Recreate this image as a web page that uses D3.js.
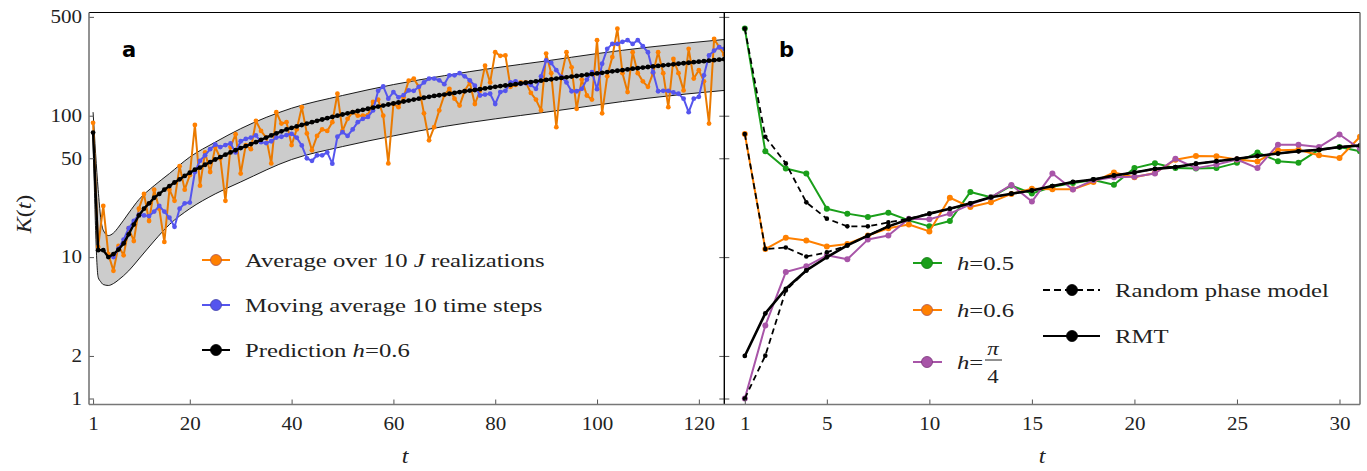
<!DOCTYPE html>
<html>
<head>
<meta charset="utf-8">
<script src="https://cdn.jsdelivr.net/npm/d3@7"></script>
<style>
body{margin:0;background:#fff;}
</style>
</head>
<body>
<svg id="chart" width="1367" height="471"></svg>
<script>
//Panel a: spectral form factor vs time, averaged over J realizations
let tA = d3.range(1,126);
let avgJ = [89,11.8,23,10.5,8,12,10.3,16,13,22,28,18,30,22,12.8,30,25,44,30,38,
  86,32,55,40,60,50,25,60,74,39,62,58,92,78,70,46,106,88,90,62,
  80,115,75,57,72,80,78,90,143,78,95,106,100,100,101,125,130,100,46,121,
  115,135,177,183,160,104,67,83,109,140,155,132,118,150,172,121,150,226,172,281,
  265,267,160,165,172,172,145,130,109,275,200,83,190,281,220,112,180,139,130,342,
  104,190,260,412,200,147,281,200,175,160,200,281,200,115,252,200,151,297,183,210,
  175,88,350,305,270];
let tMov = d3.range(5,126);
let movAvg = [10,11.5,13.3,16,18,20,19.7,19.5,21,23,21,19,16.4,22,24,24.3,40,48,52.5,58,
  62.6,60,62,63.6,55,66,68.5,70,72.5,65,64,66,70,71,73,74.5,70,61.6,50,48,
  52.5,52.5,55,45.8,71,76.5,72,80,90,95,98,109,150,161,132,147,135,140,151,150,
  160,172,183,183,178,167,193,193,200,190,178,163,139,141,143,121,147,150,172,175,
  168,170,165,155,190,246,236,210,188,172,149,149,155,180,203,154,233,297,322,322,
  333,342,322,342,310,281,203,149,150,150,146,143,132,106,132,136,193,267,289,305,297];
let predA = [76,11.2,11.2,10,10.5,11.3,12.5,14.5,17,19.7,
  22,24,26.3,28,30,31.8,33.7,35.5,37.5,39.5,
  41.5,43,45,47,49,51,53,55,57,59,
  61,63,65,67.5,70,72.5,75,77.5,80,82,
  84,86,88,90,92,94,96,98,100,102,
  104,106,108,110,112,114,116,118,120,122,
  124,126,128,130,132,134,136,138,139.5,141,
  143,145,147,149,150.5,152,154,156,158,160,
  162,163.5,165,167,169,171,173,175,177,179,
  181,183,185,187,189,191,193,195,197,199,
  201,203.5,206,208,210,212.5,215,217,219,221,
  223,225,227,229,231,233,235,237,239,241,
  243,245,247,249,251];
//confidence band around the prediction
let bandT = [1,2,2.5,3,4,5,6,8,10,13,16,20,25,30,40,50,60,70,80,90,100,110,125];
let bandHi = [106,30,19,15.5,14.2,14.8,16.3,20.5,25.5,32,39,51,65,81,113,139,166,192,218,244,275,305,346];
let bandLo = [70,7.2,6.7,6.4,6.3,6.5,6.9,8,9.7,13,17,22,28,34,49,60.5,72,84,95,106,119,133,151];

//Panel b: different h, random phase model, RMT
let tB = d3.range(1,32);
let h05 = [414,56,42.3,39,22,20.3,19.2,20.6,18.2,16.5,18,28.9,26.5,32,28.2,31.4,33.4,35.1,32.5,42.6,
  46.1,42.6,42.3,42.6,46.4,55,47.7,46.4,57.6,60,56];
let h06 = [74.3,11.4,13.7,13.1,11.9,12.4,14.2,16,17,15.2,26.3,22.6,24.4,28,30.5,30.2,30.2,34,39.7,36.7,
  39.4,48.8,51.9,51.7,49,47.5,57,57.5,52.5,50.2,71];
let hPi4 = [1,3.28,7.84,8.6,10.3,9.65,13.3,14.2,18.7,18.5,20.3,23.6,26.5,32.4,24.7,39,30.1,35,36.7,37,
  39,49.6,42.6,45.1,49,42.6,62.4,62.4,60,73.7,58.3];
let rmt = [2,4,5.97,8.05,9.98,12.1,14.2,16.5,18.5,20.3,22,24,26.5,28.1,29.6,31.8,34,35.4,37.8,39.7,
  42.1,43.3,45.8,47.7,49.6,51.9,54,56,57.3,60,61.6];
let rpm05 = [414,71,46,24.4,18.7,16.5,16.5,17.6,18.7,20.3,22,24,26.5,28.1,29.6,31.8,34,35.4,37.8,39.7,
  42.1,43.3,45.8,47.7,49.6,51.9,54,56,57.3,60,61.6];
let rpm06 = [74.3,11.4,11.7,10.1,10.8,12.1,14.2,16.5];
let rpmPi4 = [1,2.01,5.8,8.05];

let yTicks = [1,2,10,50,100,500];
let xTicksA = [1,20,40,60,80,100,120];
let xTicksB = [1,5,10,15,20,25,30];

let cOrange = "#ff8000", cBlue = "#5555ee", cGreen = "#1a9f1a", cPurple = "#a855a8";
let serif = "Liberation Serif";

let svg = d3.select("#chart");
let yTop = 12.5, yBot = 404.5, xLeft = 89, xMid = 724.3, xRight = 1360;

let y = d3.scaleLog().domain([0.907,537]).range([yBot,yTop]);
let xA = d3.scaleLinear().domain([0.2,125]).range([xLeft,xMid]);
let xB = d3.scaleLinear().domain([0,31]).range([xMid,xRight]);

svg.append("defs").html(
  '<clipPath id="clipA"><rect x="'+xLeft+'" y="'+yTop+'" width="'+(xMid-xLeft)+'" height="'+(yBot-yTop)+'"/></clipPath>'+
  '<clipPath id="clipB"><rect x="'+xMid+'" y="'+yTop+'" width="'+(xRight-xMid)+'" height="'+(yBot-yTop)+'"/></clipPath>');

//helper: line + dots for one series
function series(g,x,ts,vs,color,opts){
  let pts = ts.map((t,i) => [t,vs[i]]).filter(d => d[1]!=null);
  let line = d3.line().x(d => x(d[0])).y(d => y(d[1]));
  g.append("path")
    .datum(pts)
    .attr("d",line)
    .attr("fill","none")
    .attr("stroke",color)
    .attr("stroke-width",opts.w)
    .attr("stroke-dasharray",opts.dash || null)
    .attr("stroke-linejoin","round");
  g.selectAll(null).data(pts).enter().append("circle")
    .attr("cx",d => x(d[0]))
    .attr("cy",d => y(d[1]))
    .attr("r",opts.r)
    .attr("fill",opts.dot || color);
}

//helper: horizontally stretched serif text (reference type is wide)
function label(x,yy,html,size,sx,anchor){
  let g = svg.append("g").attr("transform","translate("+x+","+yy+") scale("+sx+",1)");
  g.append("text")
    .style("font-family",serif)
    .attr("font-size",size)
    .attr("fill","#222")
    .attr("text-anchor",anchor || "start")
    .html(html);
  return g;
}

//panel a
let gA = svg.append("g").attr("clip-path","url(#clipA)");
let band = bandT.map((t,i) => [t,bandLo[i],bandHi[i]]);
gA.append("path")
  .datum(band)
  .attr("d",d3.area().curve(d3.curveMonotoneX).x(d => xA(d[0])).y0(d => y(d[1])).y1(d => y(d[2])))
  .attr("fill","#cccccc");
[1,2].forEach(k => {
  gA.append("path")
    .datum(band)
    .attr("d",d3.line().curve(d3.curveMonotoneX).x(d => xA(d[0])).y(d => y(d[k])))
    .attr("fill","none")
    .attr("stroke","#000")
    .attr("stroke-width",0.9);
});
series(gA,xA,tA,avgJ,"#ea7a00",{w:2,r:2.4,dot:cOrange});
series(gA,xA,tMov,movAvg,cBlue,{w:2,r:2.4});
series(gA,xA,tA,predA,"#000",{w:2.4,r:2.4});

//panel b
let gB = svg.append("g").attr("clip-path","url(#clipB)");
series(gB,xB,tB,h05,cGreen,{w:2,r:3});
series(gB,xB,tB,h06,cOrange,{w:2,r:3});
series(gB,xB,tB,hPi4,cPurple,{w:2,r:3});
series(gB,xB,tB.slice(0,rpm05.length),rpm05,"#000",{w:1.8,r:2.3,dash:"6,4"});
series(gB,xB,tB.slice(0,rpm06.length),rpm06,"#000",{w:1.8,r:2.3,dash:"6,4"});
series(gB,xB,tB.slice(0,rpmPi4.length),rpmPi4,"#000",{w:1.8,r:2.3,dash:"6,4"});
series(gB,xB,tB,rmt,"#000",{w:2.6,r:2.4});

//axes
function styleAxis(g){
  g.select(".domain").remove();
  g.selectAll("line").attr("stroke","#555").attr("stroke-width",1);
  g.selectAll("text")
    .style("font-family",serif)
    .attr("font-size",18)
    .attr("fill","#222")
    .attr("transform","scale(1.17,1)");
}
svg.append("g")
  .attr("transform","translate(0,"+yBot+")")
  .call(d3.axisBottom(xA).tickValues(xTicksA).tickSize(-5).tickPadding(13))
  .call(styleAxis);
svg.append("g")
  .attr("transform","translate(0,"+yBot+")")
  .call(d3.axisBottom(xB).tickValues(xTicksB).tickSize(-5).tickPadding(13))
  .call(styleAxis);
svg.append("g")
  .attr("transform","translate("+xLeft+",0)")
  .call(d3.axisLeft(y).tickValues(yTicks).tickFormat(d3.format("d")).tickSize(-5).tickPadding(6))
  .call(styleAxis);
svg.append("g")
  .attr("transform","translate("+xMid+",0)")
  .call(d3.axisLeft(y).tickValues(yTicks).tickFormat("").tickSize(5))
  .call(styleAxis);
svg.append("g")
  .attr("transform","translate("+xMid+",0)")
  .call(d3.axisRight(y).tickValues(yTicks).tickFormat("").tickSize(5))
  .call(styleAxis);

//frame
let frame = svg.append("g").attr("fill","none");
frame.append("line").attr("x1",xLeft).attr("x2",xRight).attr("y1",yTop).attr("y2",yTop).attr("stroke","#000").attr("stroke-width",1.2);
frame.append("line").attr("x1",xMid).attr("x2",xMid).attr("y1",yTop).attr("y2",yBot).attr("stroke","#000").attr("stroke-width",1.4);
frame.append("line").attr("x1",xRight).attr("x2",xRight).attr("y1",yTop).attr("y2",yBot).attr("stroke","#777").attr("stroke-width",1.6);
frame.append("line").attr("x1",xLeft).attr("x2",xLeft).attr("y1",yTop).attr("y2",yBot).attr("stroke","#777").attr("stroke-width",1.6);
frame.append("line").attr("x1",xLeft).attr("x2",xRight).attr("y1",yBot).attr("y2",yBot).attr("stroke","#777").attr("stroke-width",1.6);

//axis titles
svg.append("g")
  .attr("transform","translate(31,214) rotate(-90) scale(1.2,1)")
  .append("text")
  .style("font-family",serif)
  .attr("text-anchor","middle")
  .attr("font-size",20)
  .attr("fill","#222")
  .html('<tspan font-style="italic">K</tspan>(<tspan font-style="italic">t</tspan>)');
label(405,463,'<tspan font-style="italic">t</tspan>',20,1.2,"middle");
label(1042,463,'<tspan font-style="italic">t</tspan>',20,1.2,"middle");

//panel letters
svg.append("text").attr("x",122).attr("y",57).style("font-family","DejaVu Sans").attr("font-weight","bold").attr("font-size",21).text("a");
svg.append("text").attr("x",779).attr("y",57).style("font-family","DejaVu Sans").attr("font-weight","bold").attr("font-size",21).text("b");

//legends
function legendItem(x,yy,color,stroke,dash,text,x0,x1){
  let g = svg.append("g");
  g.append("line").attr("x1",x0).attr("x2",x1).attr("y1",yy).attr("y2",yy)
    .attr("stroke",color).attr("stroke-width",2).attr("stroke-dasharray",dash || null);
  g.append("circle").attr("cx",x).attr("cy",yy).attr("r",5.5).attr("fill",color).attr("stroke",stroke).attr("stroke-width",0.8);
  label(x1+15,yy+7,text,19,1.3);
  return g;
}
legendItem(216,260,cOrange,"#a55",null,'Average over 10 <tspan font-style="italic">J</tspan> realizations',202,230);
legendItem(216,305,cBlue,"#44a",null,'Moving average 10 time steps',202,230);
legendItem(216,350,"#000","#000",null,'Prediction <tspan font-style="italic">h</tspan>=0.6',202,230);
legendItem(927,263,cGreen,"#171",null,'<tspan font-style="italic">h</tspan>=0.5',913,942);
legendItem(927,310,cOrange,"#a55",null,'<tspan font-style="italic">h</tspan>=0.6',913,942);
legendItem(927,362,cPurple,"#737",null,'<tspan font-style="italic">h</tspan>=',913,942);
label(993,355,'<tspan font-style="italic">π</tspan>',19,1.2,"middle");
svg.append("line").attr("x1",985).attr("x2",1002).attr("y1",360).attr("y2",360).attr("stroke","#222").attr("stroke-width",1);
label(993,383,'4',19,1.2,"middle");
legendItem(1072,290,"#000","#000","7,4",'Random phase model',1043,1100);
legendItem(1072,336,"#000","#000",null,'RMT',1043,1100);
</script>
</body>
</html>
